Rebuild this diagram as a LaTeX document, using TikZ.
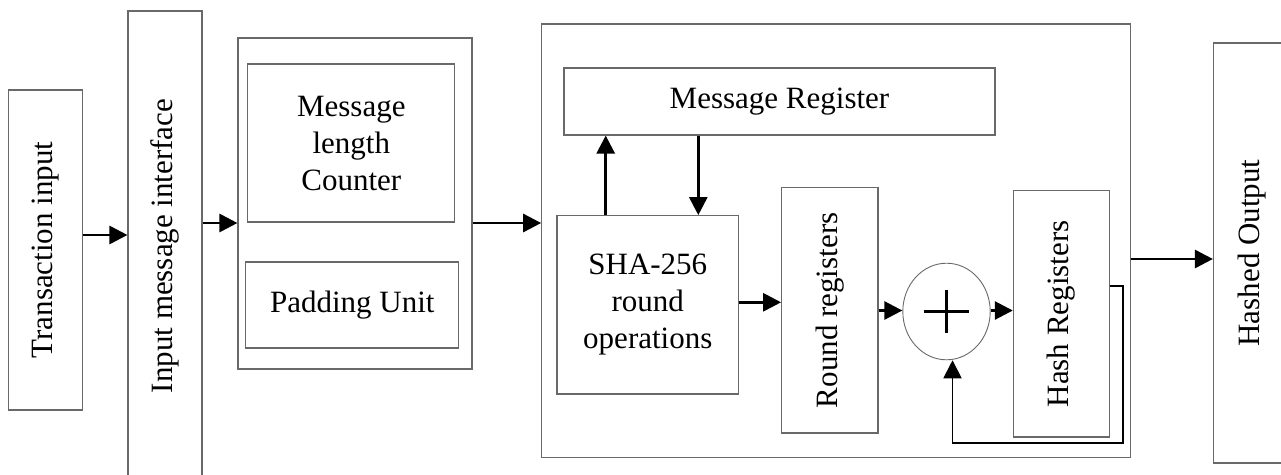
\documentclass[tikz,border=0pt]{standalone}
\usepackage{fontspec}
\setmainfont{Liberation Serif}
\usetikzlibrary{arrows.meta,shapes.geometric}
\definecolor{boxline}{RGB}{105,105,105}
\tikzset{
  lbl/.style={font=\fontsize{31}{37}\selectfont, align=center, inner sep=0pt},
  blk/.style={draw=boxline, line width=1.1pt, rectangle, inner sep=0pt, lbl},
  vlbl/.style={lbl, rotate=90},
  arr/.style={line width=2.8pt, -{Triangle[length=18pt,width=18pt]}},
  fb/.style={line width=1.8pt, -{Triangle[length=18pt,width=18pt]}},
}
\begin{document}
\begin{tikzpicture}[x=1pt,y=-1pt]
\clip (0,0) rectangle (1281,474);
\fill[white] (0,0) rectangle (1281,474);

% input side
\node[blk, minimum width=74pt, minimum height=320pt] (trans) at (45.6,250) {};
\node[vlbl] at (trans.center) {Transaction input};
\node[blk, minimum width=74pt, minimum height=470pt] (iface) at (165,246) {};
\node[vlbl] at (iface.center) {Input message interface};

% preprocessing group
\node[blk, minimum width=234pt, minimum height=331pt] (pad) at (355,203.5) {};
\node[blk, minimum width=207pt, minimum height=158pt] (mlc) at (351.3,143) {Message\\length\\Counter};
\node[blk, minimum width=213pt, minimum height=86pt] (pu) at (352.3,305) {Padding Unit};

% compression core
\node[blk, minimum width=589pt, minimum height=433.5pt] (big) at (836.2,240.7) {};
\node[blk, minimum width=431pt, minimum height=67pt] (mr) at (779.5,101.5) {Message Register};
\node[blk, minimum width=181.7pt, minimum height=178.3pt] (sha) at (647.8,304.8) {SHA-256\\round\\operations};
\node[blk, minimum width=96.3pt, minimum height=245.3pt] (round) at (829.8,310.3) {};
\node[vlbl] at (round.center) {Round registers};
\node[draw=boxline, line width=0.9pt, ellipse, minimum width=87.4pt, minimum height=96.6pt, inner sep=0pt] (circ) at (946.5,311.5) {};
\draw[line width=3.2pt] ([xshift=-22.5pt]circ.center) -- ([xshift=22.5pt]circ.center)
  ([yshift=-21.5pt]circ.center) -- ([yshift=21.5pt]circ.center);
\node[blk, minimum width=95.7pt, minimum height=246.3pt] (hash) at (1061.2,313.8) {};
\node[vlbl] at (hash.center) {Hash Registers};

% output
\node[blk, minimum width=76.5pt, minimum height=420pt] (out) at (1251.7,253) {};
\node[vlbl] at (out.center) {Hashed Output};

% data flow
\draw[arr] (trans.east |- 0,235) -- (iface.west |- 0,235);
\draw[arr] (iface.east |- 0,223) -- (pad.west |- 0,223);
\draw[arr] (pad.east |- 0,223) -- (big.west |- 0,223);
\draw[arr] (sha.north -| 605.7,0) -- (mr.south -| 605.7,0);
\draw[arr] (mr.south -| 698.3,0) -- (sha.north -| 698.3,0);
\draw[arr] (sha.east |- 0,302.3) -- (round.west |- 0,302.3);
\draw[arr] (round.east |- 0,310.5) -- (circ.west |- 0,310.5);
\draw[arr] (circ.east |- 0,310.5) -- (hash.west |- 0,310.5);
\draw[arr] (big.east |- 0,259) -- (out.west |- 0,259);

% feedback from hash registers to the adder
\draw[fb] (hash.east |- 0,285.7) -| (1122.7,443.3) -| ([xshift=6pt]circ.south);
\end{tikzpicture}
\end{document}
